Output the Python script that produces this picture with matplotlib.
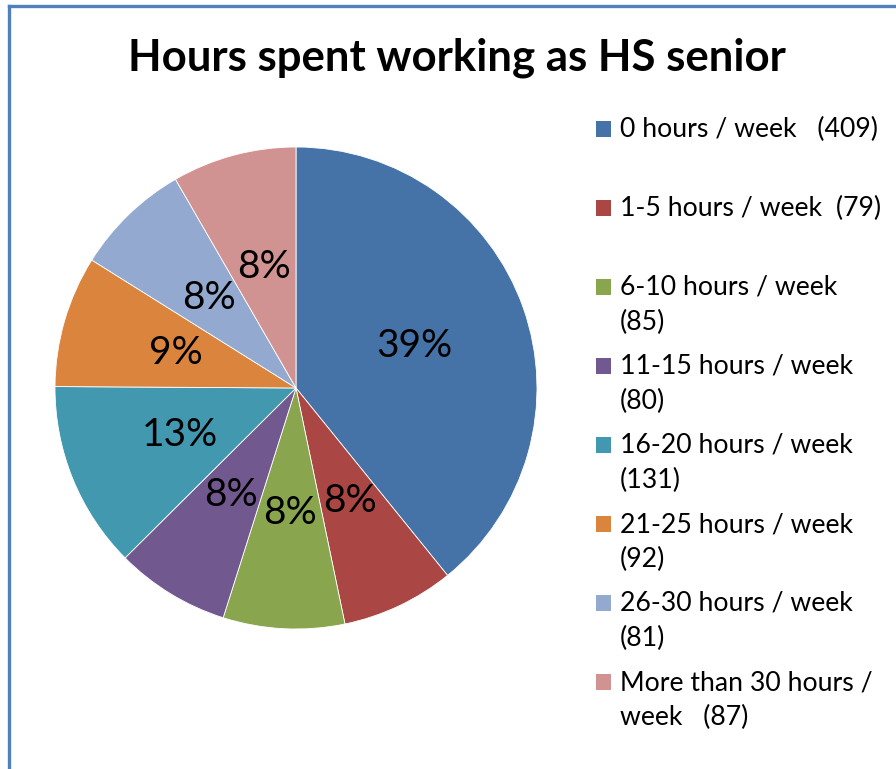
import matplotlib.pyplot as plt
from matplotlib.patches import Rectangle
from matplotlib.lines import Line2D

plt.rcParams['font.family'] = ['Lato', 'DejaVu Sans']

categories = ['0 hours / week', '1-5 hours / week', '6-10 hours / week', '11-15 hours / week',
              '16-20 hours / week', '21-25 hours / week', '26-30 hours / week', 'More than 30 hours / week']
counts = [409, 79, 85, 80, 131, 92, 81, 87]
legend_labels = ['0 hours / week   (409)', '1-5 hours / week  (79)', '6-10 hours / week\n(85)',
                 '11-15 hours / week\n(80)', '16-20 hours / week\n(131)', '21-25 hours / week\n(92)',
                 '26-30 hours / week\n(81)', 'More than 30 hours /\nweek   (87)']
colors = ['#4572A7', '#AA4643', '#89A54E', '#71588F', '#4198AF', '#DB843D', '#93A9CF', '#D19392']

W, H = 896, 769
fig = plt.figure(figsize=(W / 100, H / 100), dpi=100)

# pie centred at (296, 388) px, radius 241 px
cx, cy, r = 296, 388, 241
ax = fig.add_axes([(cx - r) / W, (H - cy - r) / H, 2 * r / W, 2 * r / H])
wedges, texts, autotexts = ax.pie(counts, colors=colors, startangle=90, counterclock=False,
                                  autopct='%1.0f%%', pctdistance=0.52,
                                  wedgeprops=dict(edgecolor='white', linewidth=0.6),
                                  textprops=dict(fontsize=28, color='black'))
ax.set_xlim(-1, 1)
ax.set_ylim(-1, 1)
ax.set_aspect('equal')

fig.text(457 / W, 1 - 58 / H, 'Hours spent working as HS senior', ha='center', va='center',
         fontsize=31.5, fontweight='bold')

# legend, one slot every 79 px
y0, step = 129, 79
for i, (lab, col) in enumerate(zip(legend_labels, colors)):
    yc = y0 + i * step
    fig.add_artist(Rectangle((596 / W, 1 - (yc + 8) / H), 15 / W, 16 / H,
                             transform=fig.transFigure, facecolor=col, edgecolor='none'))
    fig.text(620 / W, 1 - (yc - 12) / H, lab, ha='left', va='top', fontsize=19.2,
             linespacing=1.5)

# chart border (left and top edges visible)
bc = '#4F81BD'
fig.add_artist(Line2D([9 / W, 9 / W], [0, 1 - 6 / H], transform=fig.transFigure, color=bc, lw=2.4))
fig.add_artist(Line2D([9 / W, 1], [1 - 6 / H, 1 - 6 / H], transform=fig.transFigure, color=bc, lw=2.4))

fig.savefig('out.png', dpi=100)
